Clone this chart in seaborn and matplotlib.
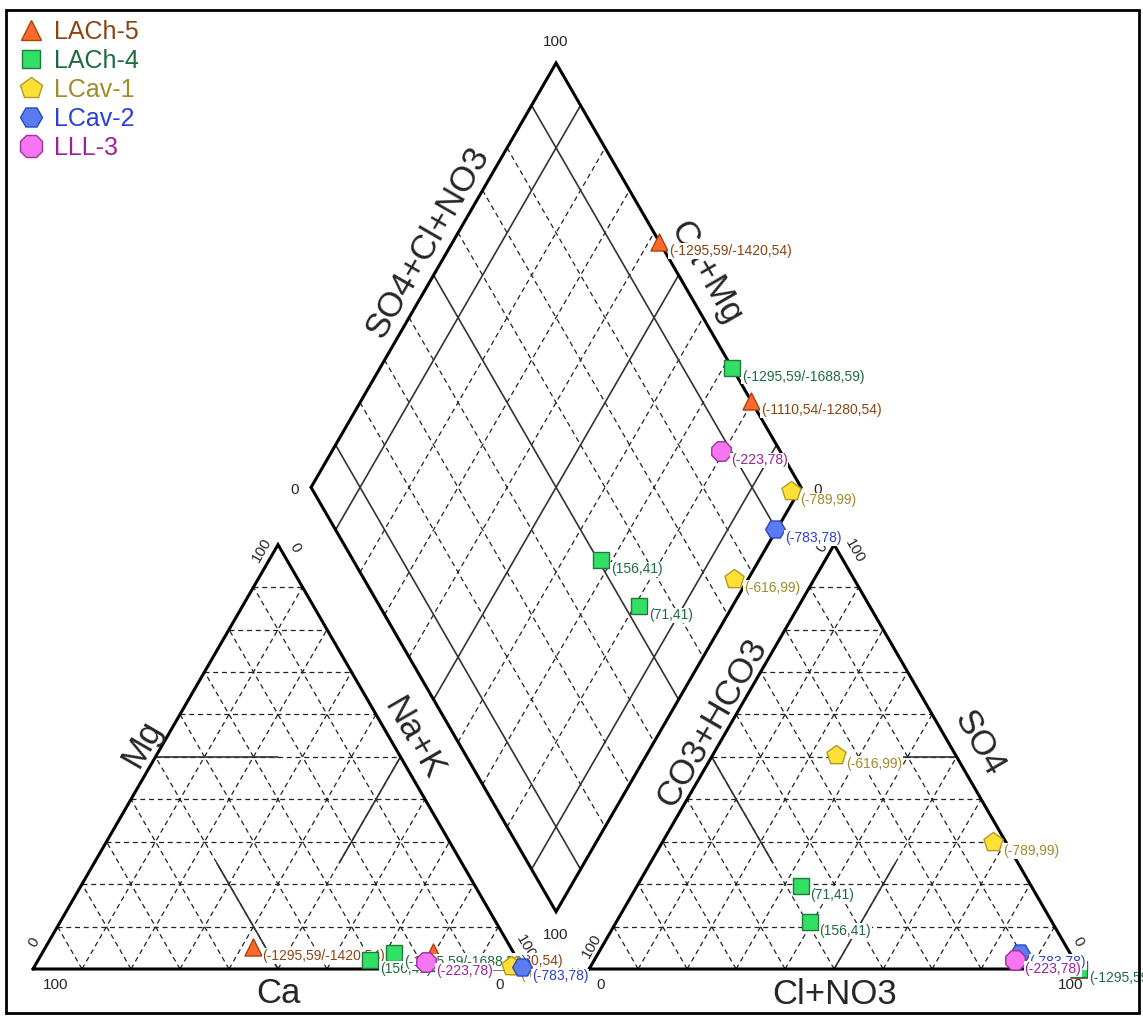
import numpy as np
import pandas as pd
import matplotlib
matplotlib.use("Agg")
import matplotlib.pyplot as plt
from matplotlib.lines import Line2D
from matplotlib.patches import Rectangle
import seaborn as sns

sns.set_style("white")
plt.rcParams["font.family"] = ["Liberation Sans", "DejaVu Sans"]

# ---- sample data (percent of meq) ----
series_names = ["LACh-5", "LACh-4", "LCav-1", "LCav-2", "LLL-3"]
sample = ["LACh-5", "LACh-5", "LACh-4", "LACh-4", "LACh-4",
          "LCav-1", "LCav-1", "LCav-2", "LLL-3"]
point_text = ["(-1295,59/-1420,54)", "(-1110,54/-1280,54)",
              "(156,41)", "(71,41)", "(-1295,59/-1688,59)",
              "(-789,99)", "(-616,99)", "(-783,78)", "(-223,78)"]
ca = [52.6, 16.4, 30.1, 17.5, 24.4, 1.1, 2.2, 0.0, 18.9]
mg = [5.2, 4.0, 2.1, 1.5, 3.8, 0.6, 0.6, 0.4, 1.7]
na_k = [42.2, 79.6, 67.8, 81.0, 71.8, 98.3, 97.2, 99.6, 79.4]
hco3 = [0.0, 0.0, 49.4, 47.0, 0.0, 2.6, 24.4, 10.2, 12.1]
so4 = [0.0, 0.0, 11.1, 19.6, 0.0, 29.9, 50.4, 3.8, 2.1]
cl_no3 = [100.0, 100.0, 39.5, 33.4, 100.0, 67.5, 25.2, 86.0, 85.8]

marker_shape = {"LACh-5": "^", "LACh-4": "s", "LCav-1": "p", "LCav-2": "H", "LLL-3": "8"}
marker_size = {"LACh-5": 150, "LACh-4": 120, "LCav-1": 210, "LCav-2": 200, "LLL-3": 230}
face_color = {"LACh-5": "#ff6a2a", "LACh-4": "#33e066", "LCav-1": "#ffe135",
              "LCav-2": "#5a7cf0", "LLL-3": "#f576f0"}
edge_color = {"LACh-5": "#a8420e", "LACh-4": "#1e7a3c", "LCav-1": "#b09a20",
              "LCav-2": "#2a48c0", "LLL-3": "#a030a0"}
text_color = {"LACh-5": "#8b4513", "LACh-4": "#1f6b3f", "LCav-1": "#a08c28",
              "LCav-2": "#2b3fd6", "LLL-3": "#a0209a"}

# ---- Piper geometry ----
H = np.sqrt(3) / 2
GAP = 0.135
X0 = 1 + GAP          # left corner of the anion triangle


def cation_xy(nak, m):
    return (nak + m / 2) / 100, m / 100 * H


def anion_xy(cl, s):
    return X0 + (cl + s / 2) / 100, s / 100 * H


def diamond_xy(nak_f, an_f):
    return (nak_f + X0 + an_f) / 2, H * (X0 + an_f - nak_f)


rows = []
for i in range(len(sample)):
    cx, cy = cation_xy(na_k[i], mg[i])
    ax_, ay = anion_xy(cl_no3[i], so4[i])
    dx, dy = diamond_xy(na_k[i] / 100, (cl_no3[i] + so4[i]) / 100)
    for panel, x, y in (("cation", cx, cy), ("anion", ax_, ay), ("diamond", dx, dy)):
        rows.append(dict(sample=sample[i], text=point_text[i], panel=panel, x=x, y=y))
df = pd.DataFrame(rows)

# ---- figure ----
W, Hpx = 1143, 1023
S = 490.0
fig = plt.figure(figsize=(W / 100, Hpx / 100), dpi=100)
ax = fig.add_axes([0, 0, 1, 1])
ax.set_xlim(-33 / S, (W - 33) / S)
ax.set_ylim((969 - Hpx) / S, 969 / S)
ax.axis("off")

DASH = dict(color="#222222", lw=0.9, ls=(0, (4, 3)), zorder=2)
SOLID = dict(color="#333333", lw=1.2, ls="-", zorder=3)
EDGE = dict(color="black", lw=2.2, zorder=4, solid_joinstyle="miter")


def seg(p, q, **kw):
    ax.plot([p[0], q[0]], [p[1], q[1]], **kw)


def triangle_grid(ox):
    for k in range(1, 10):
        f = k / 10
        seg((ox + f / 2, f * H), (ox + 1 - f / 2, f * H), **DASH)
        seg((ox + f, 0), (ox + f + (1 - f) / 2, (1 - f) * H), **DASH)
        seg((ox + f, 0), (ox + f / 2, f * H), **DASH)
    ax.plot([ox, ox + 1, ox + 0.5, ox], [0, 0, H, 0], **EDGE)


triangle_grid(0.0)
triangle_grid(X0)

# hydrochemical facies dividers
seg((0.25, H / 2), (0.5, H / 2), **SOLID)
seg((0.5, 0), (0.375, H / 4), **SOLID)
seg((0.75, H / 2), (0.625, H / 4), **SOLID)
seg((X0 + 0.75, H / 2), (X0 + 0.5, H / 2), **SOLID)
seg((X0 + 0.25, H / 2), (X0 + 0.375, H / 4), **SOLID)
seg((X0 + 0.5, 0), (X0 + 0.625, H / 4), **SOLID)

for k in range(1, 10):
    f = k / 10
    style = SOLID if k in (1, 5, 9) else DASH
    seg(diamond_xy(f, 0), diamond_xy(f, 1), **style)
    seg(diamond_xy(0, f), diamond_xy(1, f), **style)
dl, dt, dr, db = diamond_xy(0, 0), diamond_xy(0, 1), diamond_xy(1, 1), diamond_xy(1, 0)
ax.plot([dl[0], dt[0], dr[0], db[0], dl[0]], [dl[1], dt[1], dr[1], db[1], dl[1]], **EDGE)

# ---- vertex values ----
PX = 0.72  # points per pixel


def vlabel(txt, xy, dx, dy, rot=0):
    ax.annotate(txt, xy=xy, xytext=(dx * PX, dy * PX), textcoords="offset points",
                ha="center", va="center", rotation=rot, fontsize=11, zorder=5)


vlabel("100", (0, 0), 23, -16)
vlabel("0", (0, 0), 1, 27, 60)
vlabel("100", (0.5, H), -16, -5, 60)
vlabel("0", (0.5, H), 17, -3, -60)
vlabel("100", (1, 0), 3, 22, -60)
vlabel("0", (1, 0), -23, -16)
vlabel("100", (X0, 0), 3, 23, 60)
vlabel("0", (X0, 0), 11, -16)
vlabel("100", (X0 + 1, 0), -9, -16)
vlabel("0", (X0 + 1, 0), -1, 27, -60)
vlabel("0", (X0 + 0.5, H), -12, -3, 60)
vlabel("100", (X0 + 0.5, H), 21, -6, -60)
vlabel("0", dl, -16, -3)
vlabel("100", dt, 0, 21)
vlabel("100", db, 0, -23)
vlabel("0", dr, 17, -3)


# ---- axis titles ----
def edge_title(txt, p, q, frac, off, rot):
    p, q = np.array(p), np.array(q)
    d = q - p
    d = d / np.linalg.norm(d)
    n = np.array([-d[1], d[0]])
    c = p + (q - p) * frac + n * off
    ax.text(c[0], c[1], txt, rotation=rot, ha="center", va="center",
            fontsize=25, rotation_mode="anchor", zorder=5)


edge_title("Mg", (0, 0), (0.5, H), 0.51, 0.037, 60)
edge_title("Na+K", (0.5, H), (1, 0), 0.48, 0.041, -60)
edge_title("Ca", (1, 0), (0, 0), 0.5, 0.049, 0)
edge_title("CO3+HCO3", (X0, 0), (X0 + 0.5, H), 0.56, 0.034, 60)
edge_title("SO4", (X0 + 0.5, H), (X0 + 1, 0), 0.50, 0.053, -60)
edge_title("Cl+NO3", (X0 + 1, 0), (X0, 0), 0.5, 0.053, 0)
edge_title("SO4+Cl+NO3", dl, dt, 0.553, 0.044, 60)
edge_title("Ca+Mg", dt, dr, 0.524, 0.050, -60)

# ---- samples ----
for i, name in enumerate(series_names):
    sub = df[df["sample"] == name]
    sns.scatterplot(data=sub, x="x", y="y", marker=marker_shape[name],
                    s=marker_size[name], color=face_color[name],
                    edgecolor=edge_color[name], linewidth=1.0,
                    legend=False, ax=ax, zorder=10 + 2 * i, clip_on=False)
    for _, r in sub.iterrows():
        ax.annotate(r["text"], xy=(r["x"], r["y"]), xytext=(7, -6.5),
                    textcoords="offset points", ha="left", va="center",
                    fontsize=10, color=text_color[name], zorder=11 + 2 * i,
                    bbox=dict(boxstyle="square,pad=0.05", fc="white", ec="none"),
                    annotation_clip=False)

# ---- legend ----
handles = [Line2D([], [], ls="none", marker=marker_shape[n],
                  markersize=np.sqrt(marker_size[n]) * 1.12,
                  markerfacecolor=face_color[n], markeredgecolor=edge_color[n])
           for n in series_names]
leg = ax.legend(handles, series_names, loc="upper left",
                bbox_to_anchor=(18 / W, 1 - 20 / Hpx), bbox_transform=fig.transFigure,
                frameon=False, fontsize=18, handlelength=1.0, handletextpad=0.45,
                labelspacing=0.2, borderpad=0, borderaxespad=0)
for t, n in zip(leg.get_texts(), series_names):
    t.set_color(text_color[n])

# figure frame
fig.patches.append(Rectangle((6 / W, 10 / Hpx), (1139 - 6) / W, (1013 - 10) / Hpx,
                             transform=fig.transFigure, fill=False, ec="black", lw=2))

fig.savefig("out.png", dpi=100)
